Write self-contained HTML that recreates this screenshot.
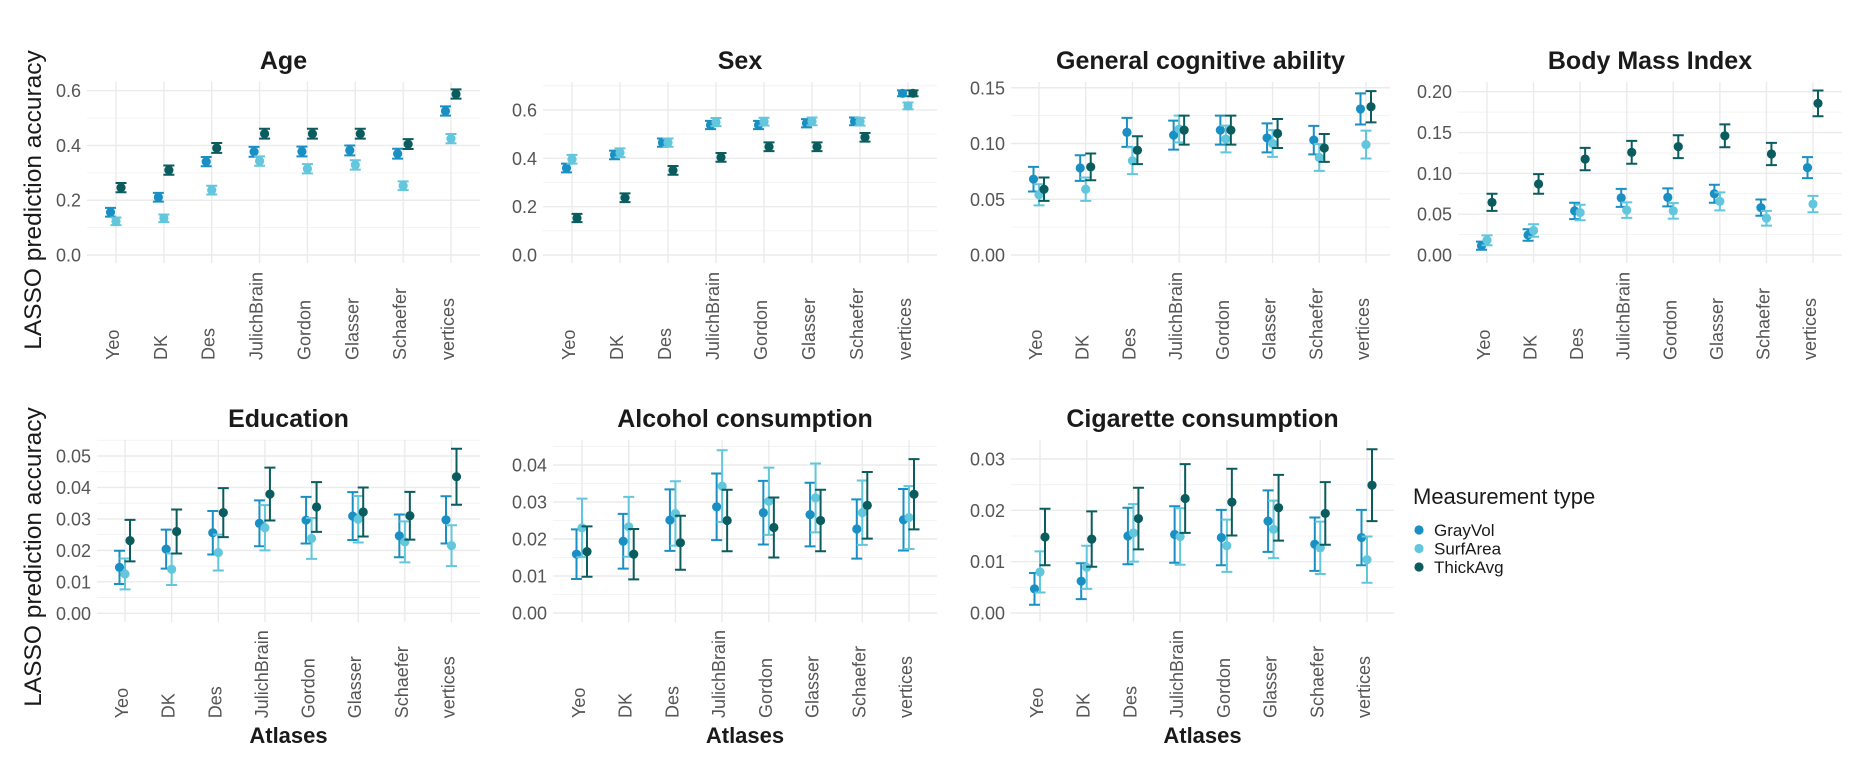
<!DOCTYPE html>
<html><head><meta charset="utf-8"><style>
html,body{margin:0;padding:0;background:#fff;}
svg{display:block;font-family:"Liberation Sans",Arial,sans-serif;}
</style></head><body>
<svg id="chart" width="1860" height="764" viewBox="0 0 1860 764" xmlns="http://www.w3.org/2000/svg"></svg>
<script>
const atlases=["Yeo","DK","Des","JulichBrain","Gordon","Glasser","Schaefer","vertices"];
const seriesNames=["GrayVol","SurfArea","ThickAvg"];
const panelTitles=["Age","Sex","General cognitive ability","Body Mass Index","Education","Alcohol consumption","Cigarette consumption"];
const ageTicks=[0,0.2,0.4,0.6];
const sexTicks=[0,0.2,0.4,0.6];
const gcaTicks=[0,0.05,0.10,0.15];
const bmiTicks=[0,0.05,0.10,0.15,0.20];
const eduTicks=[0,0.01,0.02,0.03,0.04,0.05];
const alcTicks=[0,0.01,0.02,0.03,0.04];
const cigTicks=[0,0.01,0.02,0.03];
const ageTickLabels=["0.0","0.2","0.4","0.6"];
const sexTickLabels=["0.0","0.2","0.4","0.6"];
const gcaTickLabels=["0.00","0.05","0.10","0.15"];
const bmiTickLabels=["0.00","0.05","0.10","0.15","0.20"];
const eduTickLabels=["0.00","0.01","0.02","0.03","0.04","0.05"];
const alcTickLabels=["0.00","0.01","0.02","0.03","0.04"];
const cigTickLabels=["0.00","0.01","0.02","0.03"];

const ageGray=[0.156,0.211,0.341,0.377,0.378,0.382,0.370,0.526];
const ageSurf=[0.123,0.134,0.237,0.343,0.315,0.329,0.253,0.425];
const ageThick=[0.246,0.310,0.391,0.443,0.443,0.443,0.405,0.588];
const ageGrayErr=[0.016,0.016,0.017,0.018,0.018,0.018,0.018,0.017];
const ageSurfErr=[0.014,0.014,0.016,0.017,0.017,0.017,0.016,0.017];
const ageThickErr=[0.017,0.017,0.018,0.018,0.018,0.018,0.018,0.017];

const sexGray=[0.360,0.414,0.465,0.538,0.538,0.545,0.553,0.669];
const sexSurf=[0.396,0.423,0.465,0.550,0.552,0.553,0.552,0.617];
const sexThick=[0.153,0.237,0.350,0.404,0.448,0.448,0.487,0.669];
const sexGrayErr=[0.018,0.018,0.017,0.017,0.017,0.017,0.016,0.012];
const sexSurfErr=[0.018,0.018,0.017,0.017,0.016,0.016,0.016,0.014];
const sexThickErr=[0.017,0.018,0.018,0.018,0.018,0.018,0.018,0.012];

const gcaGray=[0.068,0.078,0.110,0.1075,0.112,0.105,0.103,0.131];
const gcaSurf=[0.054,0.059,0.0845,0.113,0.104,0.100,0.0875,0.099];
const gcaThick=[0.059,0.079,0.094,0.112,0.112,0.109,0.096,0.133];
const gcaGrayErr=[0.011,0.0115,0.013,0.013,0.013,0.013,0.0128,0.014];
const gcaSurfErr=[0.0095,0.0105,0.012,0.012,0.012,0.012,0.012,0.0125];
const gcaThickErr=[0.0105,0.012,0.0125,0.013,0.013,0.013,0.0125,0.014];

const bmiGray=[0.0114,0.0245,0.054,0.070,0.0706,0.075,0.058,0.107];
const bmiSurf=[0.018,0.030,0.052,0.055,0.054,0.0657,0.045,0.0624];
const bmiThick=[0.0645,0.087,0.1175,0.1257,0.1327,0.146,0.1237,0.1857];
const bmiGrayErr=[0.005,0.007,0.010,0.011,0.011,0.011,0.010,0.0128];
const bmiSurfErr=[0.006,0.0077,0.0095,0.0095,0.0095,0.011,0.009,0.010];
const bmiThickErr=[0.0105,0.012,0.0137,0.014,0.014,0.014,0.0137,0.0157];

const eduGray=[0.0146,0.0204,0.0256,0.0286,0.0296,0.0309,0.0246,0.0297];
const eduSurf=[0.0125,0.0140,0.0193,0.0272,0.0238,0.0299,0.0227,0.0215];
const eduThick=[0.0231,0.0260,0.0320,0.0379,0.0338,0.0322,0.0310,0.0434];
const eduGrayErr=[0.0053,0.0062,0.0069,0.0073,0.0074,0.0076,0.0068,0.0075];
const eduSurfErr=[0.0049,0.0050,0.0057,0.0072,0.0065,0.0074,0.0065,0.0065];
const eduThickErr=[0.0066,0.0070,0.0078,0.0084,0.0079,0.0078,0.0076,0.0089];

const alcGray=[0.0159,0.0194,0.0251,0.0287,0.0271,0.0266,0.0227,0.0252];
const alcSurf=[0.0230,0.0233,0.0269,0.0343,0.0302,0.0311,0.0271,0.0258];
const alcThick=[0.0166,0.0159,0.0190,0.0250,0.0231,0.0250,0.0291,0.0321];
const alcGrayErr=[0.0067,0.0074,0.0083,0.0090,0.0086,0.0086,0.0080,0.0083];
const alcSurfErr=[0.0079,0.0081,0.0087,0.0097,0.0091,0.0093,0.0087,0.0085];
const alcThickErr=[0.0068,0.0068,0.0073,0.0083,0.0081,0.0083,0.0090,0.0095];

const cigGray=[0.0047,0.0062,0.0150,0.0153,0.0147,0.0179,0.0134,0.0147];
const cigSurf=[0.0080,0.0089,0.0156,0.0149,0.0131,0.0163,0.0127,0.0104];
const cigThick=[0.0148,0.0144,0.0184,0.0223,0.0216,0.0205,0.0194,0.0249];
const cigGrayErr=[0.0031,0.0035,0.0055,0.0055,0.0054,0.0060,0.0052,0.0054];
const cigSurfErr=[0.0040,0.0042,0.0056,0.0055,0.0051,0.0056,0.0051,0.0045];
const cigThickErr=[0.0055,0.0054,0.0060,0.0067,0.0065,0.0064,0.0061,0.0070];

const colors=["#1a8fc4","#62c6dc","#0b5c5e"];
const NS="http://www.w3.org/2000/svg";
const svg=document.getElementById("chart");
function mk(tag,attrs,parent){const e=document.createElementNS(NS,tag);for(const k in attrs)e.setAttribute(k,attrs[k]);(parent||svg).appendChild(e);return e;}

const panels=[
 {title:panelTitles[0],left:87,right:480,x0:116,x1:451,zero:255,ppu:273.8,top:82,bottom:263,ticks:ageTicks,labels:ageTickLabels,minor:0.1,data:[ageGray,ageSurf,ageThick],err:[ageGrayErr,ageSurfErr,ageThickErr],titleY:69,atl:false,name:"age"},
 {title:panelTitles[1],left:543,right:937,x0:572,x1:908,zero:255,ppu:241.7,top:82,bottom:263,ticks:sexTicks,labels:sexTickLabels,minor:0.1,data:[sexGray,sexSurf,sexThick],err:[sexGrayErr,sexSurfErr,sexThickErr],titleY:69,atl:false,name:"sex"},
 {title:panelTitles[2],left:1011,right:1390,x0:1039,x1:1366,zero:255,ppu:1115,top:82,bottom:263,ticks:gcaTicks,labels:gcaTickLabels,minor:0.025,data:[gcaGray,gcaSurf,gcaThick],err:[gcaGrayErr,gcaSurfErr,gcaThickErr],titleY:69,atl:false,name:"cognitive"},
 {title:panelTitles[3],left:1458,right:1842,x0:1487,x1:1813,zero:255,ppu:816.5,top:82,bottom:263,ticks:bmiTicks,labels:bmiTickLabels,minor:0.025,data:[bmiGray,bmiSurf,bmiThick],err:[bmiGrayErr,bmiSurfErr,bmiThickErr],titleY:69,atl:false,name:"bmi"},
 {title:panelTitles[4],left:97,right:480,x0:125,x1:451.5,zero:613.3,ppu:3146,top:440,bottom:622,ticks:eduTicks,labels:eduTickLabels,minor:0.005,data:[eduGray,eduSurf,eduThick],err:[eduGrayErr,eduSurfErr,eduThickErr],titleY:427,atl:true,name:"education"},
 {title:panelTitles[5],left:553,right:937,x0:582,x1:909,zero:613,ppu:3700,top:440,bottom:622,ticks:alcTicks,labels:alcTickLabels,minor:0.005,data:[alcGray,alcSurf,alcThick],err:[alcGrayErr,alcSurfErr,alcThickErr],titleY:427,atl:true,name:"alcohol"},
 {title:panelTitles[6],left:1011,right:1394,x0:1040,x1:1367,zero:613,ppu:5133,top:440,bottom:622,ticks:cigTicks,labels:cigTickLabels,minor:0.005,data:[cigGray,cigSurf,cigThick],err:[cigGrayErr,cigSurfErr,cigThickErr],titleY:427,atl:true,name:"cigarette"}
];
const dodge=[-5.5,0,5];

panels.forEach(p=>{
  const g=mk("g",{});
  
  
  const xs=i=>p.x0+(p.x1-p.x0)*i/(atlases.length-1);
  const ys=v=>p.zero-v*p.ppu;
  for(let k=1;k<200;k+=2){const yy=ys(k*p.minor); if(yy<p.top)break;
    const l=mk("line",{x1:p.left,x2:p.right,y1:yy,y2:yy,stroke:"#f0f0f0","stroke-width":0.8},g);
    
    }
  p.ticks.forEach((t,i)=>{const yy=ys(t);
    const l=mk("line",{x1:p.left,x2:p.right,y1:yy,y2:yy,stroke:"#ebebeb","stroke-width":1.4},g);
    
    
    const tx=mk("text",{x:p.left-6,y:yy+6.5,"text-anchor":"end","font-size":18,fill:"#555"},g);
    tx.textContent=p.labels[i];
    
    
  });
  atlases.forEach((a,i)=>{const xx=xs(i);
    const l=mk("line",{x1:xx,x2:xx,y1:p.top,y2:p.bottom,stroke:"#ebebeb","stroke-width":1.4},g);
    
    
    const by=p.zero+105;
    const tx=mk("text",{x:0,y:0,transform:`translate(${xx+3},${by}) rotate(-90)`,"font-size":18,fill:"#555"},g);
    tx.textContent=a;
    
    
  });
  const tt=mk("text",{x:(p.left+p.right)/2,y:p.titleY,"text-anchor":"middle","font-size":25,"font-weight":"bold",fill:"#1a1a1a"},g);
  tt.textContent=p.title;
  
  
  if(p.atl){const at=mk("text",{x:(p.left+p.right)/2,y:743,"text-anchor":"middle","font-size":22,"font-weight":"bold",fill:"#1a1a1a"},g);
    at.textContent="Atlases";
    
    }
  p.data.forEach((arr,s)=>{
    arr.forEach((v,i)=>{
      const xx=xs(i)+dodge[s], e=p.err[s][i];
      const eb=mk("path",{d:`M${xx-5.5},${ys(v+e)}H${xx+5.5}M${xx},${ys(v+e)}V${ys(v-e)}M${xx-5.5},${ys(v-e)}H${xx+5.5}`,stroke:colors[s],"stroke-width":2,fill:"none"},g);
      
      
      const c=mk("circle",{cx:xx,cy:ys(v),r:4.6,fill:colors[s]},g);
      
      
    });
  });
});
[200,557].forEach(cy=>{
  const t=mk("text",{x:0,y:0,transform:`translate(41,${cy}) rotate(-90)`,"text-anchor":"middle","font-size":24.5,fill:"#1a1a1a"});
  t.textContent="LASSO prediction accuracy";
  
  
});
const lg=mk("g",{});


const lt=mk("text",{x:1413,y:504,"font-size":22,fill:"#1a1a1a"},lg);
lt.textContent="Measurement type";


seriesNames.forEach((n,s)=>{
  const y=530+s*18.5;
  const c=mk("circle",{cx:1419,cy:y,r:4.6,fill:colors[s]},lg);
  
  
  const t=mk("text",{x:1434,y:y+6,"font-size":17,fill:"#1a1a1a"},lg);
  t.textContent=n;
  
  
});
</script>
</body></html>
